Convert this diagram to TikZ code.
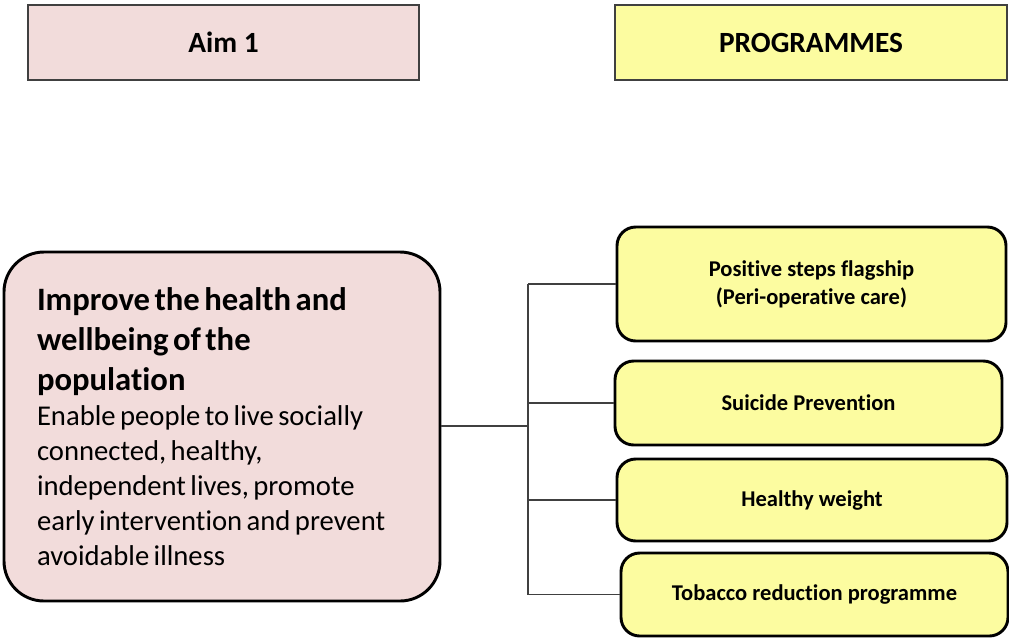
\documentclass[tikz,border=0pt]{standalone}
\usepackage{fontspec}
\setmainfont[Ligatures={NoCommon,NoRare}]{Carlito}
\definecolor{aimpink}{HTML}{F2DCDB}
\definecolor{progyellow}{HTML}{FCFCA0}
\definecolor{edgegray}{HTML}{404040}

\begin{document}
\begin{tikzpicture}[x=0.75pt, y=-0.75pt, line width=0.5pt,
  headbox/.style={draw=edgegray, line width=1.1pt, minimum height=56.25pt,
    font=\fontsize{22}{26}\selectfont\bfseries},
  progbox/.style={draw=black, line width=2.2pt, fill=progyellow, rounded corners=14pt,
    align=center, font=\fontsize{16.9}{21}\selectfont\bfseries},
  link/.style={draw=edgegray, line width=1.1pt}]
  \useasboundingbox (0,0) rectangle (1009,637);
  \node[headbox, fill=aimpink, minimum width=293.25pt] (aim) at (223.5,42.5) {Aim 1};
  \node[headbox, fill=progyellow, minimum width=294pt] (progs) at (811,42.5) {PROGRAMMES};
  \node[draw=black, line width=2.2pt, fill=aimpink, rounded corners=30pt,
    minimum height=261.75pt, text width=277.5pt, inner xsep=24.75pt, align=left]
    (aim1) at (222,426.5)
    {{\fontsize{24.5}{30}\selectfont\bfseries Improve the health and\\ wellbeing of the\\ population\par}
     {\fontsize{21.5}{26.25}\selectfont Enable people to live socially\\ connected, healthy,\\
      independent lives, promote\\ early intervention and prevent\\ avoidable illness\par}};
  \node[progbox, minimum width=291.75pt, minimum height=85.5pt] (p1) at (811.5,284)
    {Positive steps flagship\\ (Peri-operative care)};
  \node[progbox, minimum width=290.25pt, minimum height=63pt] (p2) at (808.5,403) {Suicide Prevention};
  \node[progbox, minimum width=292.5pt, minimum height=61.5pt] (p3) at (812,500) {Healthy weight};
  \node[progbox, minimum width=290.25pt, minimum height=62.25pt] (p4) at (814.5,594.5) {Tobacco reduction programme};
  % bracket connector
  \coordinate (jn) at (528,426);
  \draw[link] (aim1.east |- jn) -- (jn);
  \draw[link] (jn |- p1.west) -- (jn |- p4.west);
  \foreach \p in {p1,p2,p3,p4}
    \draw[link] (jn |- \p.west) -- (\p.west);
\end{tikzpicture}
\end{document}
